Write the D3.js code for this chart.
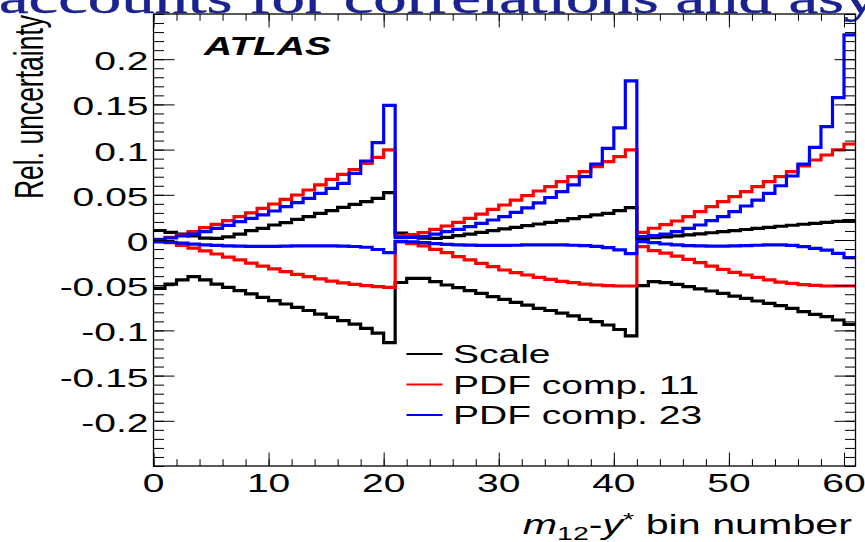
<!DOCTYPE html>
<html>
<head>
<meta charset="utf-8">
<script src="https://cdn.jsdelivr.net/npm/d3@7"></script>
<style>
  html, body { margin: 0; padding: 0; background: #fff; }
  svg { display: block; }
</style>
</head>
<body>
<svg id="chart" width="865" height="542"></svg>
<script>
// Relative uncertainty per m12-y* bin (61 bins, three y* blocks: 0-20, 21-41, 42-60)
const scaleUp = [
  0.0105, 0.0085, 0.0065, 0.0045, 0.0020, 0.0018, 0.0035, 0.0065, 0.0103, 0.0129,
  0.0166, 0.0192, 0.0229, 0.0258, 0.0295, 0.0324, 0.0360, 0.0395, 0.0424, 0.0460, 0.0524,
  0.0075, 0.0045, 0.0020, 0.0018, 0.0030, 0.0048, 0.0066, 0.0085, 0.0103, 0.0122,
  0.0140, 0.0159, 0.0177, 0.0195, 0.0214, 0.0236, 0.0258, 0.0277, 0.0295, 0.0324, 0.0358,
  0.0015, 0.0025, 0.0035, 0.0045, 0.0057, 0.0068, 0.0080, 0.0092, 0.0104, 0.0116,
  0.0128, 0.0140, 0.0152, 0.0163, 0.0174, 0.0185, 0.0196, 0.0205, 0.0214
];
const scaleDown = [
  -0.0535, -0.0487, -0.0442, -0.0406, -0.0442, -0.0487, -0.0524, -0.0560, -0.0597, -0.0634,
  -0.0670, -0.0708, -0.0745, -0.0780, -0.0819, -0.0855, -0.0892, -0.0930, -0.0977, -0.1030, -0.1136,
  -0.0470, -0.0425, -0.0425, -0.0460, -0.0498, -0.0527, -0.0560, -0.0590, -0.0627, -0.0656,
  -0.0690, -0.0720, -0.0756, -0.0780, -0.0810, -0.0840, -0.0878, -0.0903, -0.0940, -0.0990, -0.1060,
  -0.0505, -0.0460, -0.0472, -0.0490, -0.0516, -0.0540, -0.0564, -0.0590, -0.0620, -0.0645,
  -0.0675, -0.0700, -0.0726, -0.0756, -0.0793, -0.0822, -0.0848, -0.0885, -0.0933
];
const pdf11Up = [
  0.0008, 0.0030, 0.0055, 0.0092, 0.0136, 0.0173, 0.0214, 0.0258, 0.0300, 0.0350,
  0.0398, 0.0450, 0.0498, 0.0553, 0.0610, 0.0670, 0.0726, 0.0780, 0.0848, 0.0914, 0.0996,
  0.0045, 0.0060, 0.0081, 0.0118, 0.0155, 0.0195, 0.0239, 0.0287, 0.0339, 0.0387,
  0.0442, 0.0490, 0.0542, 0.0590, 0.0645, 0.0700, 0.0756, 0.0811, 0.0867, 0.0922, 0.0996,
  0.0085, 0.0130, 0.0170, 0.0210, 0.0258, 0.0313, 0.0369, 0.0424, 0.0480, 0.0535,
  0.0590, 0.0645, 0.0700, 0.0756, 0.0819, 0.0885, 0.0940, 0.0996, 0.1062
];
const pdf11Down = [
  -0.0010, -0.0030, -0.0060, -0.0090, -0.0120, -0.0155, -0.0190, -0.0220, -0.0255, -0.0290,
  -0.0320, -0.0350, -0.0380, -0.0405, -0.0430, -0.0455, -0.0475, -0.0490, -0.0505, -0.0515, -0.0525,
  -0.0020, -0.0040, -0.0066, -0.0103, -0.0140, -0.0184, -0.0220, -0.0258, -0.0295, -0.0332,
  -0.0360, -0.0387, -0.0413, -0.0435, -0.0457, -0.0472, -0.0487, -0.0498, -0.0505, -0.0509, -0.0509,
  -0.0074, -0.0117, -0.0145, -0.0178, -0.0214, -0.0251, -0.0288, -0.0324, -0.0358, -0.0387,
  -0.0413, -0.0442, -0.0465, -0.0480, -0.0494, -0.0501, -0.0509, -0.0509, -0.0509
];
const pdf23Up = [
  0.0005, 0.0022, 0.0044, 0.0066, 0.0092, 0.0129, 0.0162, 0.0203, 0.0240, 0.0277,
  0.0321, 0.0369, 0.0413, 0.0461, 0.0516, 0.0572, 0.0627, 0.0737, 0.0874, 0.1077, 0.1490,
  0.0030, 0.0030, 0.0037, 0.0066, 0.0092, 0.0118, 0.0147, 0.0184, 0.0221, 0.0258,
  0.0305, 0.0355, 0.0410, 0.0470, 0.0535, 0.0610, 0.0700, 0.0840, 0.1014, 0.1240, 0.1760,
  0.0037, 0.0050, 0.0066, 0.0092, 0.0129, 0.0166, 0.0214, 0.0258, 0.0313, 0.0376,
  0.0442, 0.0516, 0.0600, 0.0708, 0.0840, 0.1025, 0.1254, 0.1574, 0.2268
];
const pdf23Down = [
  -0.0020, -0.0025, -0.0035, -0.0045, -0.0053, -0.0060, -0.0065, -0.0068, -0.0070, -0.0070,
  -0.0070, -0.0068, -0.0066, -0.0065, -0.0065, -0.0066, -0.0068, -0.0072, -0.0080, -0.0105, -0.0140,
  -0.0015, -0.0020, -0.0030, -0.0040, -0.0048, -0.0053, -0.0057, -0.0060, -0.0060, -0.0060,
  -0.0058, -0.0055, -0.0053, -0.0053, -0.0055, -0.0058, -0.0063, -0.0070, -0.0085, -0.0110, -0.0150,
  -0.0018, -0.0030, -0.0044, -0.0055, -0.0063, -0.0066, -0.0068, -0.0068, -0.0066, -0.0062,
  -0.0058, -0.0055, -0.0055, -0.0060, -0.0074, -0.0092, -0.0113, -0.0147, -0.0195
];

const xTicks = [0, 10, 20, 30, 40, 50, 60];
const xTickLabels = ["0", "10", "20", "30", "40", "50", "60"];
const yTicks = [-0.2, -0.15, -0.1, -0.05, 0, 0.05, 0.1, 0.15, 0.2];
const yTickLabels = ["-0.2", "-0.15", "-0.1", "-0.05", "0", "0.05", "0.1", "0.15", "0.2"];
const legendLabels = ["Scale", "PDF comp. 11", "PDF comp. 23"];
const seriesColors = ["#000000", "#ff0000", "#0000ff"];

const svg = d3.select("#chart");
const frame = { left: 153.5, right: 855.5, top: 14, bottom: 466 };
const SX = 1.5;                 // horizontal stretch of the lettering
const SANS = "'Liberation Sans', Arial, Helvetica, sans-serif";

const x = d3.scaleLinear().domain([0, 61]).range([frame.left, frame.right]);
const y = d3.scaleLinear().domain([-0.25, 0.25]).range([frame.bottom, frame.top]);

// heading text running along the top edge
svg.append("g")
  .attr("transform", `translate(-1,13) scale(${SX},1)`)
  .append("text")
  .attr("font-family", "'Liberation Serif', 'Times New Roman', serif")
  .attr("font-size", 44.5)
  .attr("fill", "#1a2290")
  .attr("stroke", "#1a2290").attr("stroke-width", 0.4)
  .text("accounts for correlations and asy");

// step histograms
const step = d3.line()
  .x(d => x(d[0]))
  .y(d => y(d[1]))
  .curve(d3.curveStepAfter);
const toPoints = vals => vals.map((v, i) => [i, v]).concat([[vals.length, vals[vals.length - 1]]]);

svg.append("clipPath").attr("id", "plotclip")
  .append("rect")
  .attr("x", frame.left).attr("y", frame.top)
  .attr("width", frame.right - frame.left).attr("height", frame.bottom - frame.top);

const groups = [
  { color: seriesColors[0], series: [scaleUp, scaleDown] },
  { color: seriesColors[1], series: [pdf11Up, pdf11Down] },
  { color: seriesColors[2], series: [pdf23Up, pdf23Down] }
];
const plot = svg.append("g").attr("clip-path", "url(#plotclip)");
groups.forEach(g => {
  g.series.forEach(vals => {
    plot.append("path")
      .attr("d", step(toPoints(vals)))
      .attr("fill", "none")
      .attr("stroke", g.color)
      .attr("stroke-width", 3.2)
      .attr("stroke-linejoin", "miter");
  });
});

// ticks on all four sides, pointing inwards
const xMinor = d3.range(0, 61, 2);
const yMinor = d3.range(-25, 26).map(k => k / 100);
function tickAxis(axisGen, tr, values, size) {
  const g = svg.append("g").attr("transform", tr)
    .call(axisGen.tickValues(values).tickSize(size).tickSizeOuter(0).tickFormat(""));
  g.select(".domain").remove();
  g.selectAll(".tick line").attr("stroke", "#000").attr("stroke-width", 1);
}
tickAxis(d3.axisTop(x), `translate(0,${frame.bottom})`, xTicks, 13.5);
tickAxis(d3.axisTop(x), `translate(0,${frame.bottom})`, xMinor, 6.8);
tickAxis(d3.axisBottom(x), `translate(0,${frame.top})`, xTicks, 13.5);
tickAxis(d3.axisBottom(x), `translate(0,${frame.top})`, xMinor, 6.8);
tickAxis(d3.axisRight(y), `translate(${frame.left},0)`, yTicks, 21);
tickAxis(d3.axisRight(y), `translate(${frame.left},0)`, yMinor, 10.5);
tickAxis(d3.axisLeft(y), `translate(${frame.right},0)`, yTicks, 21);
tickAxis(d3.axisLeft(y), `translate(${frame.right},0)`, yMinor, 10.5);

// frame
svg.append("rect")
  .attr("x", frame.left).attr("y", frame.top)
  .attr("width", frame.right - frame.left).attr("height", frame.bottom - frame.top)
  .attr("fill", "none").attr("stroke", "#000").attr("stroke-width", 1.3);

// tick labels
yTicks.forEach((v, i) => {
  svg.append("g")
    .attr("transform", `translate(148.5,${y(v)}) scale(${SX},1)`)
    .append("text")
    .attr("text-anchor", "end").attr("dy", "0.42em")
    .attr("font-family", SANS).attr("font-size", 26).attr("fill", "#000")
    .text(yTickLabels[i]);
});
xTicks.forEach((v, i) => {
  svg.append("g")
    .attr("transform", `translate(${x(v)},491.5) scale(${SX},1)`)
    .append("text")
    .attr("text-anchor", "middle")
    .attr("font-family", SANS).attr("font-size", 26).attr("fill", "#000")
    .text(xTickLabels[i]);
});

// axis titles
const xt = svg.append("g")
  .attr("transform", `translate(852,534) scale(${SX},1)`)
  .append("text")
  .attr("text-anchor", "end")
  .attr("font-family", SANS).attr("font-size", 27.5).attr("fill", "#000");
xt.append("tspan").attr("font-style", "italic").text("m");
xt.append("tspan").attr("font-size", 19).attr("dy", 6).text("12");
xt.append("tspan").attr("dy", -6).text("-");
xt.append("tspan").attr("font-style", "italic").text("y");
xt.append("tspan").attr("font-size", 19).attr("dy", -8).text("*");
xt.append("tspan").attr("dy", 8).text(" bin number");

svg.append("g")
  .attr("transform", `translate(43,15) rotate(-90) scale(1,${SX})`)
  .append("text")
  .attr("text-anchor", "end")
  .attr("font-family", SANS).attr("font-size", 26.5).attr("fill", "#000")
  .text("Rel. uncertainty");

// experiment label
svg.append("g")
  .attr("transform", `translate(204,55) scale(${SX},1)`)
  .append("text")
  .attr("font-family", SANS).attr("font-size", 26)
  .attr("font-weight", "bold").attr("font-style", "italic").attr("fill", "#000")
  .text("ATLAS");

// legend
const rowY = [354, 384.5, 415];
legendLabels.forEach((lab, i) => {
  svg.append("line")
    .attr("x1", 406.5).attr("x2", 442.5)
    .attr("y1", rowY[i]).attr("y2", rowY[i])
    .attr("stroke", seriesColors[i]).attr("stroke-width", 2);
  svg.append("g")
    .attr("transform", `translate(453,${rowY[i] + 9.3}) scale(${SX},1)`)
    .append("text")
    .attr("font-family", SANS).attr("font-size", 26).attr("fill", "#000")
    .text(lab);
});
</script>
</body>
</html>
